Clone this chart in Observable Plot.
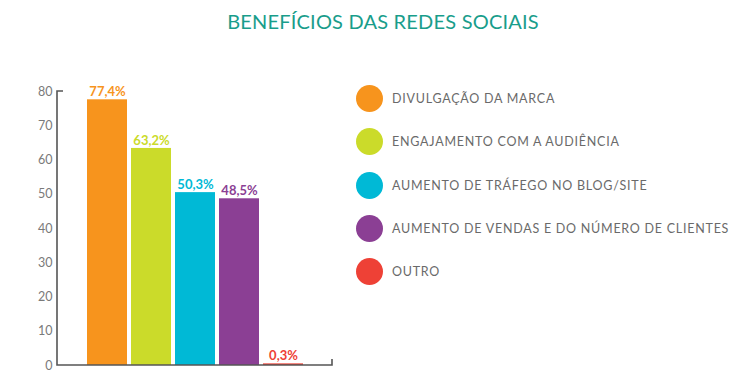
<!DOCTYPE html>
<html>
<head>
<meta charset="utf-8">
<script src="https://cdn.jsdelivr.net/npm/d3@7"></script>
<script src="https://cdn.jsdelivr.net/npm/@observablehq/plot@0.6"></script>
<style>
  html, body { margin: 0; padding: 0; background: #fff; }
  #page { position: relative; width: 747px; height: 385px; overflow: hidden; font-family: Lato, "Open Sans", sans-serif; }
  #title { position: absolute; left: 183px; width: 400px; top: 9px; text-align: center; font-size: 20px; color: #199d8b; letter-spacing: 0.2px; white-space: nowrap; }
  #chart { position: absolute; left: 0; top: 0; }
  #legend { position: absolute; left: 356px; top: 77px; }
  .row { display: flex; align-items: center; height: 43.33px; }
  .sw { width: 27px; height: 27px; border-radius: 50%; margin-right: 9px; flex: none; }
  .lab { font-size: 12.5px; color: #6a6a6a; letter-spacing: 0.75px; white-space: nowrap; }
</style>
</head>
<body>
<div id="page">
  <div id="title"></div>
  <div id="chart"></div>
  <div id="legend"></div>
</div>
<script>
const title = "BENEFÍCIOS DAS REDES SOCIAIS";
const categories = [
  "DIVULGAÇÃO DA MARCA",
  "ENGAJAMENTO COM A AUDIÊNCIA",
  "AUMENTO DE TRÁFEGO NO BLOG/SITE",
  "AUMENTO DE VENDAS E DO NÚMERO DE CLIENTES",
  "OUTRO"
];
const values = [77.4, 63.2, 50.3, 48.5, 0.3];
const colors = ["#f7941d", "#cbdb2a", "#00b9d6", "#8b3f94", "#ee4136"];
const yTicks = [0, 10, 20, 30, 40, 50, 60, 70, 80];

const data = categories.map((c, i) => ({cat: c, value: values[i], color: colors[i]}));
const fmt = v => v.toFixed(1).replace(".", ",") + "%";

document.getElementById("title").textContent = title;

const axisFrame = (index, scales, vals, dims) => {
  const ns = "http://www.w3.org/2000/svg";
  const l = dims.marginLeft, r = dims.width - dims.marginRight;
  const t = dims.marginTop, b = dims.height - dims.marginBottom;
  const g = document.createElementNS(ns, "g");
  const p = document.createElementNS(ns, "path");
  p.setAttribute("d", `M${l + 6},${t}H${l}V${b}H${r}V${b - 6}`);
  p.setAttribute("fill", "none");
  p.setAttribute("stroke", "#555");
  p.setAttribute("stroke-width", "1.6");
  g.appendChild(p);
  return g;
};

const chart = Plot.plot({
  width: 340,
  height: 385,
  marginLeft: 57,
  marginRight: 8,
  marginTop: 91,
  marginBottom: 20,
  style: {fontFamily: "Lato, sans-serif", background: "transparent"},
  x: {domain: categories, paddingInner: 1 / 11, paddingOuter: 0.67, axis: null},
  y: {domain: [0, 80], axis: null},
  color: {type: "identity"},
  marks: [
    Plot.barY(data, {x: "cat", y: "value", fill: "color", insetTop: -0.6}),
    Plot.axisY(yTicks, {tickSize: 0, tickPadding: 5, fontSize: 12.5, color: "#7a7a7a", label: null}),
    Plot.text(data, {x: "cat", y: "value", text: d => fmt(d.value), fill: "color",
      lineAnchor: "bottom", dy: -4, fontWeight: 700, fontSize: 13, letterSpacing: 0.3}),
    axisFrame
  ]
});
document.getElementById("chart").appendChild(chart);

const legend = document.getElementById("legend");
data.forEach(d => {
  const row = document.createElement("div");
  row.className = "row";
  const sw = document.createElement("div");
  sw.className = "sw";
  sw.style.background = d.color;
  const lab = document.createElement("div");
  lab.className = "lab";
  lab.textContent = d.cat;
  row.appendChild(sw);
  row.appendChild(lab);
  legend.appendChild(row);
});
</script>
</body>
</html>
